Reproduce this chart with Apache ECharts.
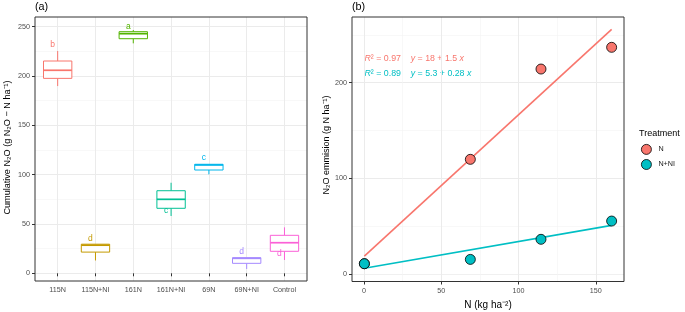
<!DOCTYPE html>
<html><head><meta charset="utf-8">
<script src="https://cdn.jsdelivr.net/npm/echarts@6/dist/echarts.min.js"></script>
<style>html,body{margin:0;padding:0;background:#fff}#c{width:685px;height:312px}</style>
</head><body><div id="c"></div>
<script>
// ---- Panel (a) data ----
const categories = ['115N','115N+NI','161N','161N+NI','69N','69N+NI','Control'];
const boxMin    = [189.8, 13.0, 233.1, 58.1, 100.3, 4.4, 13.5];
const boxQ1     = [197.6, 21.5, 237.8, 65.9, 104.7, 10.1, 22.3];
const boxMedian = [205.8, 28.5, 242.9, 75.0, 109.8, 15.2, 31.0];
const boxQ3     = [215.2, 29.5, 244.9, 83.7, 110.5, 15.8, 38.5];
const boxMax    = [225.3, 29.5, 246.6, 91.8, 110.5, 15.8, 46.6];
const letters   = ['b','d','a','c','c','d','d'];
const letterY   = [231.4, 35.5, 250.0, 63.5, 116.9, 22.3, 19.6];
const yTicksA   = [0, 50, 100, 150, 200, 250];

// ---- Panel (b) data ----
const nRate       = [0, 69, 115, 161];
const emissionN   = [10.8, 119.9, 214.3, 237.0];
const emissionNNI = [10.8, 15.3, 36.3, 55.4];
const fitX   = [0, 161];
const fitN   = [18.8, 255.8];
const fitNNI = [6.0, 50.9];
const xTicksB = [0, 50, 100, 150];
const yTicksB = [0, 100, 200];

const boxColors = ['#F8766D','#C49A00','#53B400','#00C094','#00B6EB','#A58AFF','#FB61D7'];
const FONT = 'Liberation Sans, Arial, sans-serif';
const AX_TXT = '#4D4D4D';
const GRID_MAJ = '#EBEBEB';
const GRID_MIN = '#F3F3F3';

const chart = echarts.init(document.getElementById('c'), null, {renderer:'canvas'});

function hiddenAxis(gi, extra){ return Object.assign({gridIndex:gi, type:'value', show:false}, extra||{}); }

const boxData = categories.map((c,i)=>[i, boxMin[i], boxQ1[i], boxMedian[i], boxQ3[i], boxMax[i], letterY[i]]);

function renderBox(params, api){
  const i = params.dataIndex;
  const col = boxColors[i];
  const cx = api.coord([api.value(0), 0])[0];
  const hw = api.size([1,0])[0]*0.375;
  const yMin = api.coord([api.value(0), api.value(1)])[1];
  const yQ1 = api.coord([api.value(0), api.value(2)])[1];
  const yMed = api.coord([api.value(0), api.value(3)])[1];
  const yQ3 = api.coord([api.value(0), api.value(4)])[1];
  const yMax = api.coord([api.value(0), api.value(5)])[1];
  const yL = api.coord([api.value(0), api.value(6)])[1];
  return {type:'group', children:[
    {type:'line', shape:{x1:cx,y1:yMax,x2:cx,y2:yQ3}, style:{stroke:col, lineWidth:1}},
    {type:'line', shape:{x1:cx,y1:yQ1,x2:cx,y2:yMin}, style:{stroke:col, lineWidth:1}},
    {type:'rect', shape:{x:cx-hw, y:yQ3, width:2*hw, height:yQ1-yQ3}, style:{fill:'#fff', stroke:col, lineWidth:1}},
    {type:'line', shape:{x1:cx-hw,y1:yMed,x2:cx+hw,y2:yMed}, style:{stroke:col, lineWidth:1.7}},
    {type:'text', x:cx-5, y:yL, style:{text:letters[i], fill:col, fontSize:8.5, fontFamily:FONT, align:'center', verticalAlign:'middle'}}
  ]};
}

const yPxB = 264.5/276.5; // px per unit in panel (b)
const option = {
  animation:false,
  backgroundColor:'#fff',
  grid:[
    {left:35, top:17, width:272, height:264, show:true, borderColor:'#333', borderWidth:1, backgroundColor:'transparent', z:10},
    {left:35, top:26.7, width:272, height:246.6},
    {left:38.78, top:17, width:264.6, height:264},
    {left:352, top:17, width:272, height:264.5, show:true, borderColor:'#333', borderWidth:1, backgroundColor:'transparent', z:10},
    {left:352, top:274.04-200*yPxB, width:272, height:200*yPxB},
    {left:364, top:17, width:231.8, height:264.5},
    {left:352, top:274.04-250*yPxB, width:272, height:250*yPxB}
  ],
  xAxis:[
    hiddenAxis(0,{min:0,max:1}),
    hiddenAxis(1,{min:0,max:1}),
    {gridIndex:2, type:'category', data:categories, boundaryGap:true,
      axisLine:{show:false},
      axisTick:{show:true, alignWithLabel:true, interval:0, length:3, lineStyle:{color:'#333', width:1}},
      axisLabel:{interval:0, margin:6, fontSize:7.2, color:AX_TXT, fontFamily:FONT},
      splitLine:{show:true, alignWithLabel:true, interval:0, lineStyle:{color:GRID_MAJ, width:1}}},
    hiddenAxis(3,{min:-8.05,max:169.05}),
    hiddenAxis(4,{min:0,max:1}),
    {gridIndex:5, type:'value', min:xTicksB[0], max:xTicksB[xTicksB.length-1], interval:xTicksB[1]-xTicksB[0],
      axisLine:{show:false},
      axisTick:{show:true, length:3, lineStyle:{color:'#333', width:1}},
      axisLabel:{margin:6, fontSize:7.2, color:AX_TXT, fontFamily:FONT},
      splitLine:{show:true, lineStyle:{color:GRID_MAJ, width:1}},
      minorTick:{show:false, splitNumber:2},
      minorSplitLine:{show:true, lineStyle:{color:GRID_MIN, width:0.6}}},
    hiddenAxis(6,{min:0,max:1})
  ],
  yAxis:[
    hiddenAxis(0,{min:0,max:1}),
    {gridIndex:1, type:'value', min:yTicksA[0], max:yTicksA[yTicksA.length-1], interval:yTicksA[1]-yTicksA[0],
      axisLine:{show:false},
      axisTick:{show:true, length:3, lineStyle:{color:'#333', width:1}},
      axisLabel:{margin:5, fontSize:7.2, color:AX_TXT, fontFamily:FONT},
      splitLine:{show:true, lineStyle:{color:GRID_MAJ, width:1}},
      minorTick:{show:false, splitNumber:2},
      minorSplitLine:{show:true, lineStyle:{color:GRID_MIN, width:0.6}}},
    hiddenAxis(2,{min:-7.8,max:259.8}),
    hiddenAxis(3,{min:-7.8,max:268.7}),
    {gridIndex:4, type:'value', min:yTicksB[0], max:yTicksB[yTicksB.length-1], interval:yTicksB[1]-yTicksB[0],
      axisLine:{show:false},
      axisTick:{show:true, length:3, lineStyle:{color:'#333', width:1}},
      axisLabel:{margin:5, fontSize:7.2, color:AX_TXT, fontFamily:FONT},
      splitLine:{show:true, lineStyle:{color:GRID_MAJ, width:1}},
      minorTick:{show:false, splitNumber:2},
      minorSplitLine:{show:true, lineStyle:{color:GRID_MIN, width:0.6}}},
    hiddenAxis(5,{min:0,max:1}),
    {gridIndex:6, type:'value', min:0, max:250, interval:250,
      axisLine:{show:false}, axisTick:{show:false}, axisLabel:{show:false},
      splitLine:{show:true, lineStyle:{color:GRID_MIN, width:0.6}}}
  ],
  legend:{data:['N','N+NI'], orient:'vertical', left:641, top:144, padding:0, itemWidth:10, itemHeight:10, itemGap:4.3,
    icon:'circle', textStyle:{fontSize:7.2, color:'#1a1a1a', fontFamily:FONT, padding:[0,0,0,2]},
    itemStyle:{borderColor:'#000', borderWidth:0.8}},
  graphic:[
    {type:'text', x:35, y:7, style:{text:'(a)', fontSize:10.8, fontFamily:FONT, fill:'#000', align:'left', verticalAlign:'middle'}},
    {type:'text', x:352, y:7, style:{text:'(b)', fontSize:10.8, fontFamily:FONT, fill:'#000', align:'left', verticalAlign:'middle'}},
    {type:'text', x:7.5, y:147.5, rotation:Math.PI/2, style:{text:'Cumulative N₂O (g N₂O − N ha⁻¹)', fontSize:9.1, fontFamily:FONT, fill:'#000', align:'center', verticalAlign:'middle'}},
    {type:'text', x:327, y:145, rotation:Math.PI/2, style:{text:'N₂O emmision (g N ha⁻¹)', fontSize:9, fontFamily:FONT, fill:'#000', align:'center', verticalAlign:'middle'}},
    {type:'text', x:488, y:305, style:{text:'N (kg ha⁻²)', fontSize:10, fontFamily:FONT, fill:'#000', align:'center', verticalAlign:'middle'}},
    {type:'text', x:639, y:133.5, style:{text:'Treatment', fontSize:9, fontFamily:FONT, fill:'#000', align:'left', verticalAlign:'middle'}},
    {type:'text', x:364.5, y:58.5, style:{text:'{i|R}{n|² = 0.97    }{i|y}{n| = 18 + 1.5 }{i|x}', fontSize:8.8, fontFamily:FONT, fill:'#F8766D', align:'left', verticalAlign:'middle',
      rich:{i:{fontStyle:'italic', fontSize:8.8, fontFamily:FONT, fill:'#F8766D'}, n:{fontSize:8.8, fontFamily:FONT, fill:'#F8766D'}}}},
    {type:'text', x:364.5, y:73.5, style:{text:'{i|R}{n|² = 0.89    }{i|y}{n| = 5.3 + 0.28 }{i|x}', fontSize:8.8, fontFamily:FONT, fill:'#00BFC4', align:'left', verticalAlign:'middle',
      rich:{i:{fontStyle:'italic', fontSize:8.8, fontFamily:FONT, fill:'#00BFC4'}, n:{fontSize:8.8, fontFamily:FONT, fill:'#00BFC4'}}}}
  ],
  series:[
    {type:'custom', name:'box', xAxisIndex:2, yAxisIndex:2, data:boxData, encode:{x:0, y:[1,2,3,4,5]}, renderItem:renderBox, z:3, silent:true},
    {type:'line', name:'fitN', xAxisIndex:3, yAxisIndex:3, data:fitX.map((x,i)=>[x, fitN[i]]), symbol:'none', lineStyle:{color:'#F8766D', width:1.6}, z:2, silent:true},
    {type:'line', name:'fitNNI', xAxisIndex:3, yAxisIndex:3, data:fitX.map((x,i)=>[x, fitNNI[i]]), symbol:'none', lineStyle:{color:'#00BFC4', width:1.6}, z:2, silent:true},
    {type:'scatter', name:'N', xAxisIndex:3, yAxisIndex:3, data:nRate.map((x,i)=>[x, emissionN[i]]), symbol:'circle', symbolSize:10,
      itemStyle:{color:'#F8766D', borderColor:'#000', borderWidth:0.8, opacity:1}, z:4},
    {type:'scatter', name:'N+NI', xAxisIndex:3, yAxisIndex:3, data:nRate.map((x,i)=>[x, emissionNNI[i]]), symbol:'circle', symbolSize:10,
      itemStyle:{color:'#00BFC4', borderColor:'#000', borderWidth:0.8, opacity:1}, z:5}
  ]
};
chart.setOption(option);
</script></body></html>
